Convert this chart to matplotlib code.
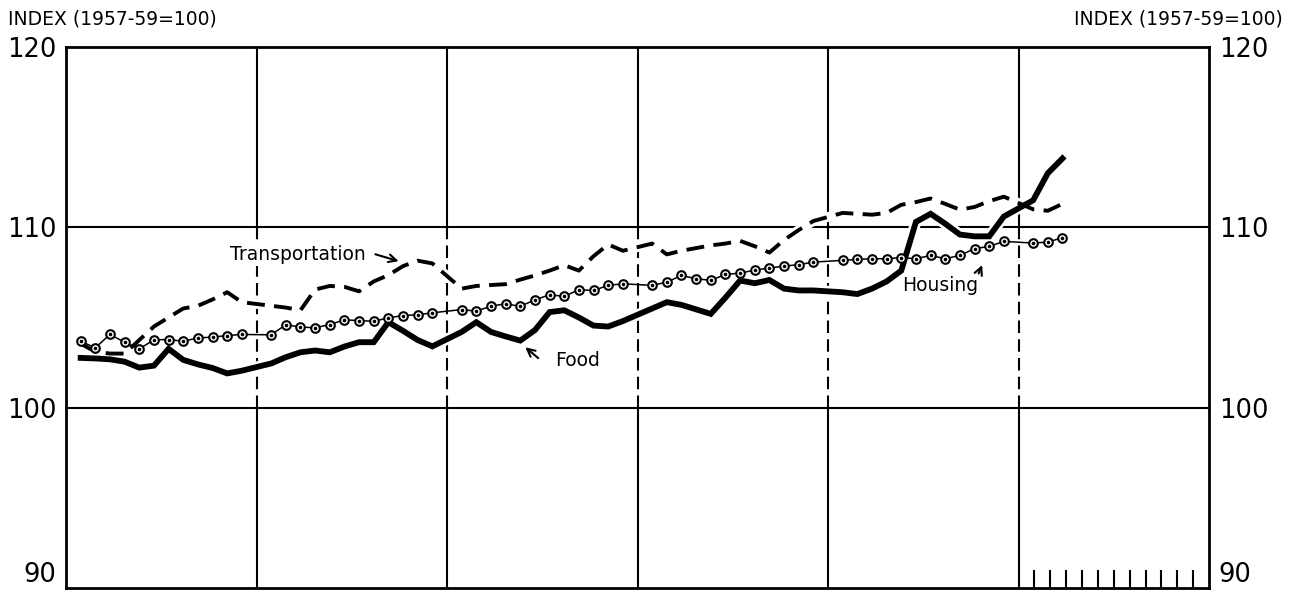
import numpy as np
import matplotlib.pyplot as plt

# monthly index values (1957-59=100), 5 full years + 3 months
food = [
    102.76, 102.73, 102.68, 102.55, 102.22, 102.33, 103.26, 102.65, 102.40, 102.20, 101.90, 102.05,
    102.45, 102.80, 103.07, 103.17, 103.07, 103.39, 103.63, 103.63, 104.74, 104.26, 103.75, 103.40,
    104.20, 104.74, 104.20, 103.95, 103.72, 104.30, 105.30, 105.40, 105.00, 104.55, 104.50, 104.80,
    105.50, 105.85, 105.70, 105.45, 105.20, 106.10, 107.05, 106.90, 107.08, 106.60, 106.50, 106.50,
    106.40, 106.30, 106.60, 107.00, 107.60, 110.30, 110.75, 110.20, 109.60, 109.50, 109.50, 110.60,
    111.50, 113.00, 113.82,
]
transportation = [
    103.55, 103.10, 103.00, 103.00, 103.75, 104.50, 105.00, 105.50, 105.65, 106.00, 106.40, 105.85,
    105.65, 105.55, 105.40, 106.55, 106.75, 106.70, 106.45, 107.00, 107.35, 107.85, 108.15, 108.00,
    106.60, 106.75, 106.80, 106.85, 107.10, 107.33, 107.60, 107.90, 107.60, 108.40, 109.05, 108.70,
    109.10, 108.50, 108.70, 108.85, 109.00, 109.10, 109.25, 108.95, 108.60, 109.30, 109.85, 110.35,
    110.80, 110.75, 110.70, 110.80, 111.25, 111.40, 111.60, 111.30, 110.98, 111.13, 111.45, 111.70,
    111.00, 110.92, 111.30,
]
housing = [
    103.68, 103.32, 104.06, 103.63, 103.26, 103.76, 103.78, 103.68, 103.87, 103.91, 104.00, 104.06,
    104.04, 104.60, 104.47, 104.43, 104.61, 104.87, 104.83, 104.79, 104.98, 105.11, 105.15, 105.26,
    105.44, 105.35, 105.63, 105.76, 105.62, 105.98, 106.26, 106.17, 106.54, 106.50, 106.78, 106.87,
    106.78, 106.96, 107.33, 107.15, 107.06, 107.39, 107.46, 107.63, 107.74, 107.85, 107.93, 108.07,
    108.17, 108.22, 108.26, 108.26, 108.32, 108.26, 108.44, 108.26, 108.44, 108.82, 108.94, 109.22,
    109.13, 109.18, 109.43,
]
n_years = 6
y_ticks = [90, 100, 110, 120]
index_label = 'INDEX (1957-59=100)'

plt.rcParams['font.family'] = 'DejaVu Sans'

# months placed inside each year panel (year + slot/13)
m = np.arange(len(food))
x = m // 12 + (m % 12 + 1) / 13.0

fig = plt.figure(figsize=(12.91, 5.96), dpi=100)
ax = fig.add_axes([66 / 1291, 8 / 596, 1143 / 1291, 541 / 596])
ax.set_xlim(0, n_years)
ax.set_ylim(90, 120)

# grid
for yv in [100, 110]:
    ax.axhline(yv, color='black', lw=1.5, zorder=1)
for xb in range(1, n_years):
    ax.axvline(xb, ymin=0, ymax=1/3, color='black', lw=1.5, zorder=1)
    ax.axvline(xb, ymin=2/3, ymax=1, color='black', lw=1.5, zorder=1)
    ax.axvline(xb, ymin=1/3, ymax=2/3, color='black', lw=1.5, zorder=1,
               dashes=(6, 3))

# white halos so grid breaks where the lines cross
ax.plot(x, food, color='white', lw=8, zorder=2, solid_capstyle='butt')
ax.plot(x, transportation, color='white', lw=7, zorder=2, solid_capstyle='butt')

ax.plot(x, food, color='black', lw=4.2, zorder=3, solid_joinstyle='miter')
ax.plot(x, transportation, color='black', lw=2.8, dashes=(4.6, 2.4), zorder=3)
ax.plot(x, housing, color='black', lw=1.1, marker='o', ms=6.2, mfc='white',
        mec='black', mew=1.5, zorder=4)
ax.plot(x, housing, ls='none', marker='o', ms=1.6, color='black', zorder=5)

# labels with arrows
arrow = dict(arrowstyle='->', color='black', lw=1.5, mutation_scale=14)
ax.text(1.575, 108.47, 'Transportation', fontsize=13.5, ha='right', va='center',
        zorder=6, bbox=dict(facecolor='white', edgecolor='none', pad=1))
ax.annotate('', xy=(1.76, 108.08), xytext=(1.61, 108.55), arrowprops=arrow)
ax.text(2.57, 102.6, 'Food', fontsize=13.5, ha='left', va='center')
ax.annotate('', xy=(2.40, 103.45), xytext=(2.49, 102.65), arrowprops=arrow)
ax.text(4.588, 106.8, 'Housing', fontsize=13.5, ha='center', va='center')
ax.annotate('', xy=(4.815, 108.05), xytext=(4.785, 107.3), arrowprops=arrow)

# axes styling
for s in ax.spines.values():
    s.set_linewidth(2)
ax.set_xticks([])
ax.set_xticks([n_years - 1 + k / 12 for k in range(1, 12)], minor=True)
ax.tick_params(axis='x', which='minor', direction='in', length=13, width=1.5)
ax.set_yticks(y_ticks)
ax.set_yticklabels([str(v) for v in y_ticks])
ax.tick_params(axis='y', length=0, labelsize=18.5, labelleft=True, labelright=True, pad=7)
t0 = ax.yaxis.get_major_ticks()[0]
t0.label1.set_va('bottom')
t0.label2.set_va('bottom')

fig.text(8 / 1291, 1 - 19 / 596, index_label, fontsize=13.5, ha='left', va='center')
fig.text(1283 / 1291, 1 - 19 / 596, index_label, fontsize=13.5, ha='right', va='center')

fig.savefig('out.png', dpi=100)
